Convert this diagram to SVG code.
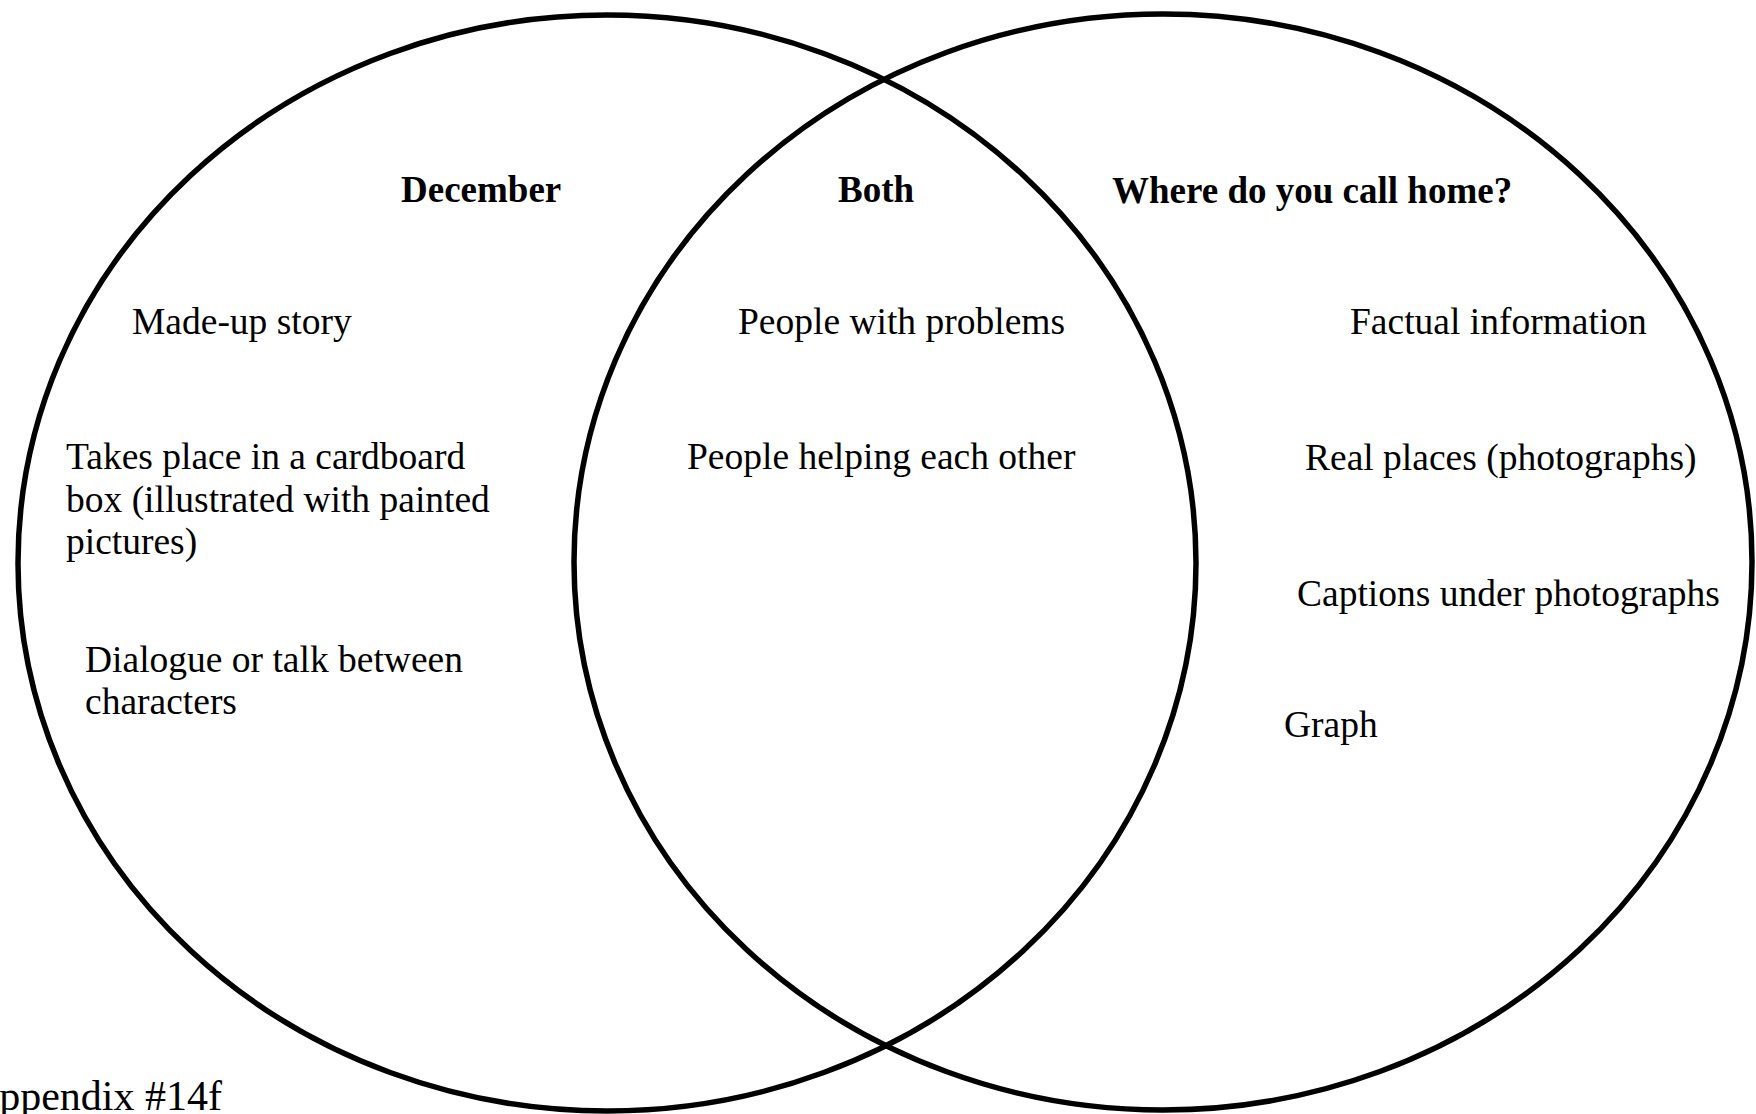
<svg xmlns="http://www.w3.org/2000/svg" width="1756" height="1114" viewBox="0 0 1756 1114">
<style>
  .ring { fill: none; stroke: #000; stroke-width: 5.5; }
  .h { font-family: "Liberation Serif", "Times New Roman", serif; font-weight: bold; font-size: 37px; fill: #000; }
  .t { font-family: "Liberation Serif", "Times New Roman", serif; font-size: 37.5px; fill: #000; }
</style>
<rect width="1756" height="1114" fill="#fff"/>
<g id="connectors"></g>
<g id="set-december">
  <ellipse class="ring" cx="607" cy="563" rx="589" ry="548"/>
  <text class="h" x="401" y="202">December</text>
  <text class="t" x="132" y="334">Made-up story</text>
  <text class="t" x="66" y="469">Takes place in a cardboard</text>
  <text class="t" x="66" y="512">box (illustrated with painted</text>
  <text class="t" x="66" y="554">pictures)</text>
  <text class="t" x="85" y="672">Dialogue or talk between</text>
  <text class="t" x="85" y="714">characters</text>
</g>
<g id="set-home">
  <ellipse class="ring" cx="1163" cy="562" rx="589" ry="548"/>
  <text class="h" x="1112" y="203">Where do you call home?</text>
  <text class="t" x="1350" y="334">Factual information</text>
  <text class="t" x="1305" y="470">Real places (photographs)</text>
  <text class="t" x="1297" y="606">Captions under photographs</text>
  <text class="t" x="1284" y="737">Graph</text>
</g>
<g id="set-both">
  <text class="h" x="838" y="202">Both</text>
  <text class="t" x="738" y="334">People with problems</text>
  <text class="t" x="687" y="469">People helping each other</text>
</g>
<g id="footer">
  <text class="t" x="222" y="1110" text-anchor="end" style="font-size:42px">Appendix #14f</text>
</g>
</svg>
